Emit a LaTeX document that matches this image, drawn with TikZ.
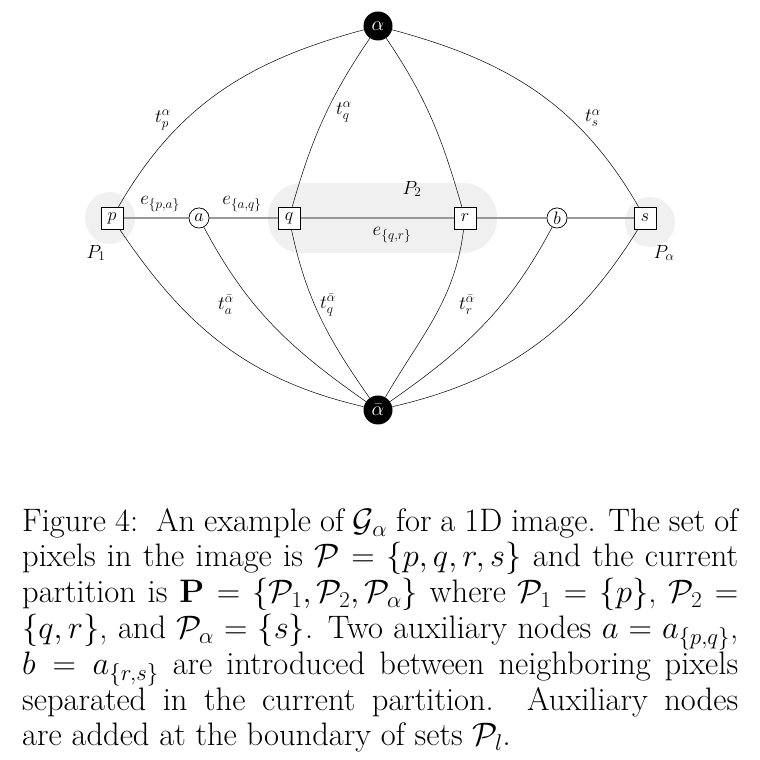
\RequirePackage{fix-cm}
\documentclass[tikz,border=0pt]{standalone}
\usepackage{amsmath}
\begin{document}
\begin{tikzpicture}[x=1pt,y=1pt,
  pix/.style={draw=black,fill=white,line width=0.6pt,minimum size=22pt,inner sep=0pt,font=\fontsize{18}{20}\selectfont},
  aux/.style={draw=black,fill=white,circle,line width=0.6pt,minimum size=20pt,inner sep=0pt,font=\fontsize{18}{20}\selectfont},
  term/.style={circle,fill=black,text=white,minimum size=29pt,inner sep=0pt,font=\fontsize{20}{22}\selectfont},
  lab/.style={inner sep=0pt,font=\fontsize{19}{21}\selectfont},
  tlink/.style={draw=black,line width=0.5pt},
  nlink/.style={draw=black!40,line width=1.5pt},
  region/.style={fill=black!6,draw=none}]
\useasboundingbox (0,0) rectangle (760,760);
% regions
\fill[region] (110,542) ellipse[x radius=25,y radius=26];
\fill[region] (650,538) circle[radius=25];
\fill[region,rounded corners=34] (268,507) rectangle (497,577);
% nodes
\node[term] (al) at (378,734) {$\alpha$};
\node[term] (ab) at (378,350) {$\bar{\alpha}$};
\node[pix] (p) at (112,542) {$p$};
\node[aux] (a) at (199,542) {$a$};
\node[pix] (q) at (289,542) {$q$};
\node[pix] (r) at (465,542) {$r$};
\node[aux] (b) at (557,542) {$b$};
\node[pix] (s) at (645,542) {$s$};
% n-links
\draw[nlink] (p) -- (a);
\draw[nlink] (a) -- (q);
\draw[nlink] (q) -- (r);
\draw[nlink] (r) -- (b);
\draw[nlink] (b) -- (s);
% t-links
\draw[tlink] (p) to[out=60,in=195] (al);
\draw[tlink] (q) to[out=74,in=236] (al);
\draw[tlink] (r) to[out=106,in=-56] (al);
\draw[tlink] (s) to[out=120,in=-15] (al);
\draw[tlink] (p) to[out=-56,in=167] (ab);
\draw[tlink] (a) to[out=-62,in=145] (ab);
\draw[tlink] (q) to[out=-78,in=125] (ab);
\draw[tlink] (r) to[out=-97,in=60] (ab);
\draw[tlink] (b) to[out=-118,in=35] (ab);
\draw[tlink] (s) to[out=-122,in=13] (ab);
% redraw nodes on top
\node[pix] at (p) {$p$};
\node[aux] at (a) {$a$};
\node[pix] at (q) {$q$};
\node[pix] at (r) {$r$};
\node[aux] at (b) {$b$};
\node[pix] at (s) {$s$};
% labels
\node[lab] (ltp) at (163,640) {$t_p^{\alpha}$};
\node[lab] (ltq) at (344,648) {$t_q^{\alpha}$};
\node[lab] (lts) at (593,642) {$t_s^{\alpha}$};
\node[lab] (lepa) at (160,556) {$e_{\{p,a\}}$};
\node[lab] (leaq) at (242,556) {$e_{\{a,q\}}$};
\node[lab] (lP2) at (412,571) {$P_2$};
\node[lab] (leqr) at (392,525) {$e_{\{q,r\}}$};
\node[lab] (lP1) at (96,507) {$P_1$};
\node[lab] (lPa) at (664,507) {$P_\alpha$};
\node[lab] (lta) at (226,455) {$t_a^{\bar\alpha}$};
\node[lab] (ltqb) at (328,455) {$t_q^{\bar\alpha}$};
\node[lab] (ltr) at (467,455) {$t_r^{\bar\alpha}$};
% caption
\node[anchor=north west,inner sep=0pt,text width=716pt,align=justify,
  font=\fontsize{32.5}{35.8}\selectfont] (cap) at (22,252)
{Figure 4:\ \ An example of $\mathcal{G}_\alpha$ for a 1D image. The set of\linebreak
pixels in the image is $\mathcal{P}=\{p,q,r,s\}$ and the current\linebreak
partition is $\mathbf{P}=\{\mathcal{P}_1,\mathcal{P}_2,\mathcal{P}_\alpha\}$ where $\mathcal{P}_1=\{p\}$, $\mathcal{P}_2=$\linebreak
$\{q,r\}$, and $\mathcal{P}_\alpha=\{s\}$. Two auxiliary nodes $a=a_{\{p,q\}}$,\linebreak
$b=a_{\{r,s\}}$ are introduced between neighboring pixels\linebreak
separated in the current partition. Auxiliary nodes\linebreak
are added at the boundary of sets $\mathcal{P}_l$.\par};
\end{tikzpicture}
\end{document}
